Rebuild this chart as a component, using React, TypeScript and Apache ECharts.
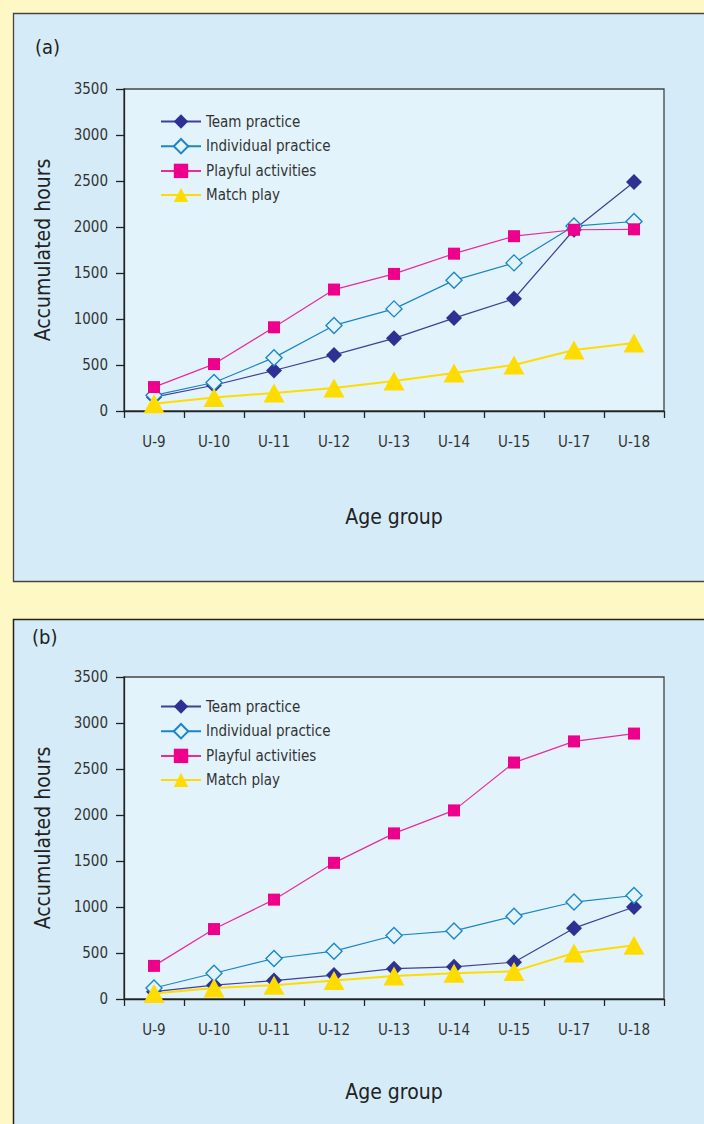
import React, { useEffect, useRef } from "react";
import * as echarts from "echarts";

const categories = ["U-9", "U-10", "U-11", "U-12", "U-13", "U-14", "U-15", "U-17", "U-18"];
const yTicks = [0, 500, 1000, 1500, 2000, 2500, 3000, 3500];
const seriesNames = ["Team practice", "Individual practice", "Playful activities", "Match play"];

const teamA = [150, 280, 440, 610, 790, 1010, 1220, 1970, 2490];
const indivA = [170, 310, 580, 930, 1110, 1420, 1610, 2010, 2060];
const playA = [260, 510, 910, 1320, 1490, 1710, 1900, 1970, 1975];
const matchA = [80, 147, 196, 250, 326, 413, 500, 663, 739];

const teamB = [80, 150, 200, 260, 330, 350, 400, 770, 1000];
const indivB = [120, 280, 440, 520, 690, 740, 900, 1054, 1125];
const playB = [360, 760, 1080, 1480, 1800, 2050, 2570, 2800, 2885];
const matchB = [60, 120, 150, 200, 250, 280, 300, 500, 585];

const FONT = "'DejaVu Sans Condensed', 'Noto Sans', sans-serif";
const TXT = "#333333";
const NAME = "#222222";

function makeSeries(gi: number, data: number[][]) {
  const styles = [
    { symbol: "diamond", symbolSize: 16, itemStyle: { color: "#2e3192" }, lineStyle: { color: "#423f9c", width: 1.2 } },
    { symbol: "diamond", symbolSize: 16, itemStyle: { color: "#e2f3fb", borderColor: "#1a86c8", borderWidth: 1.4 }, lineStyle: { color: "#1a86c8", width: 1.2 } },
    { symbol: "rect", symbolSize: 12, itemStyle: { color: "#ec008c" }, lineStyle: { color: "#ec2a96", width: 1.2 } },
    { symbol: "triangle", symbolSize: [21, 19], itemStyle: { color: "#ffdc00" }, lineStyle: { color: "#ffdc00", width: 2 } },
  ];
  return data.map((d, i) => ({
    type: "line",
    name: seriesNames[i],
    xAxisIndex: gi,
    yAxisIndex: gi,
    data: d,
    ...styles[i],
    z: 2 + i,
  }));
}

function axisPair(gi: number, xNameGap: number) {
  const xAxis = {
    type: "category",
    gridIndex: gi,
    data: categories,
    boundaryGap: true,
    axisLine: { lineStyle: { color: "#222", width: 1.3 } },
    axisTick: { show: true, length: 7, lineStyle: { color: "#222", width: 1.3 } },
    axisLabel: { color: TXT, fontSize: 15, fontFamily: FONT, margin: 23 },
    name: "Age group",
    nameLocation: "middle",
    nameGap: xNameGap,
    nameTextStyle: { color: NAME, fontSize: 21, fontFamily: FONT },
  };
  const yAxis = {
    type: "value",
    gridIndex: gi,
    min: 0,
    max: yTicks[yTicks.length - 1],
    interval: yTicks[1] - yTicks[0],
    splitLine: { show: false },
    axisLine: { show: true, lineStyle: { color: "#222", width: 1.3 } },
    axisTick: { show: true, length: 8, lineStyle: { color: "#222", width: 1.3 } },
    axisLabel: { color: TXT, fontSize: 15, fontFamily: FONT, margin: 16, formatter: (v: number) => String(v) },
    name: "Accumulated hours",
    nameLocation: "middle",
    nameGap: 71,
    nameTextStyle: { color: NAME, fontSize: 21, fontFamily: FONT },
  };
  return { xAxis, yAxis };
}

export default function App() {
  const ref = useRef<HTMLDivElement>(null);
  useEffect(() => {
    document.body.style.margin = "0";
    if (!ref.current) return;
    const chart = echarts.init(ref.current, null, { renderer: "svg" });
    const a = axisPair(0, 95);
    const b = axisPair(1, 82);
    const legend = (top: number) => ({
      orient: "vertical",
      left: 155,
      top,
      itemWidth: 40,
      itemHeight: 18,
      itemGap: 9,
      data: seriesNames,
      textStyle: { color: TXT, fontSize: 15, fontFamily: FONT },
      selectedMode: false,
    });
    chart.setOption({
      animation: false,
      backgroundColor: "#fef8c4",
      graphic: [
        { type: "rect", z: -10, shape: { x: 13.5, y: 13.5, width: 720, height: 568 }, style: { fill: "#d5ecf8", stroke: "#444", lineWidth: 1.3 } },
        { type: "rect", z: -10, shape: { x: 13.5, y: 619.5, width: 720, height: 540 }, style: { fill: "#d5ecf8", stroke: "#222", lineWidth: 1.5 } },
        { type: "text", x: 35, y: 37, style: { text: "(a)", fill: NAME, fontSize: 20, fontFamily: FONT } },
        { type: "text", x: 32, y: 627, style: { text: "(b)", fill: NAME, fontSize: 20, fontFamily: FONT } },
      ],
      legend: [legend(109), legend(694)],
      grid: [
        { left: 124, top: 89, width: 540, height: 322, show: true, backgroundColor: "#e2f3fb", borderColor: "#444", borderWidth: 1.3 },
        { left: 124, top: 677, width: 540, height: 322, show: true, backgroundColor: "#e2f3fb", borderColor: "#444", borderWidth: 1.3 },
      ],
      xAxis: [a.xAxis, b.xAxis],
      yAxis: [a.yAxis, b.yAxis],
      series: [
        ...makeSeries(0, [teamA, indivA, playA, matchA]),
        ...makeSeries(1, [teamB, indivB, playB, matchB]),
      ],
    });
    return () => chart.dispose();
  }, []);
  return <div ref={ref} style={{ width: 704, height: 1124 }} />;
}
